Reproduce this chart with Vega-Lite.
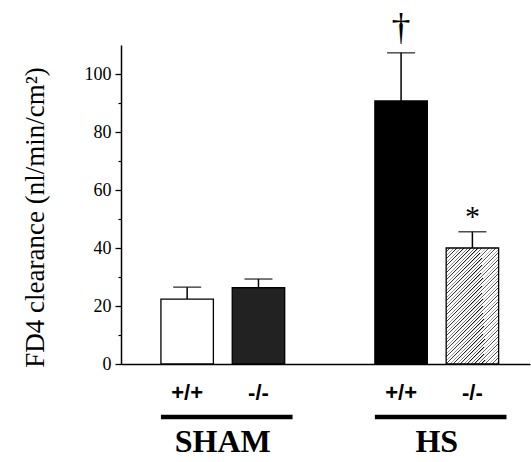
{
  "$schema": "https://vega.github.io/schema/vega-lite/v6.json",
  "width": 409,
  "height": 319,
  "autosize": "none",
  "padding": {"left": 121, "top": 45, "right": 1, "bottom": 98},
  "background": "white",
  "config": {
    "view": {"stroke": null},
    "font": "Liberation Serif",
    "axis": {"domainColor": "#000", "tickColor": "#000", "labelColor": "#000", "titleColor": "#000", "grid": false}
  },
  "resolve": {"axis": {"y": "independent"}},
  "datasets": {
    "bars": [
      {"cond": "SHAM +/+", "group": "SHAM", "genotype": "+/+", "mean": 22.4, "upper": 26.5},
      {"cond": "SHAM -/-", "group": "SHAM", "genotype": "-/-", "mean": 26.3, "upper": 29.3},
      {"cond": "HS +/+", "group": "HS", "genotype": "+/+", "mean": 90.7, "upper": 107.3},
      {"cond": "HS -/-", "group": "HS", "genotype": "-/-", "mean": 40.0, "upper": 45.6}
    ],
    "groups": [
      {"group": "SHAM", "start": "SHAM +/+", "end": "SHAM -/-"},
      {"group": "HS", "start": "HS +/+", "end": "HS -/-"}
    ],
    "signif": [
      {"cond": "HS +/+", "symbol": "†", "pos": 111.8},
      {"cond": "HS -/-", "symbol": "*", "pos": 47.6}
    ]
  },
  "layer": [
    {
      "data": {"name": "bars"},
      "mark": {"type": "bar", "stroke": "#000", "strokeWidth": 1.3},
      "encoding": {
        "x": {
          "field": "cond", "type": "nominal",
          "scale": {"domain": ["SHAM +/+", "SHAM -/-", "gap", "HS +/+", "HS -/-"], "paddingInner": 0.2645, "paddingOuter": 0.5, "align": 0.56},
          "axis": {
            "title": null, "ticks": false, "tickSize": 0, "domainWidth": 1.5,
            "labelExpr": "datum.value == 'gap' ? '' : split(datum.value, ' ')[1]",
            "labelFont": "Liberation Sans", "labelFontWeight": "bold", "labelFontSize": 22,
            "labelAngle": 0, "labelBaseline": "middle", "labelPadding": 28
          }
        },
        "y": {
          "field": "mean", "type": "quantitative",
          "scale": {"domain": [0, 110], "nice": false, "zero": true},
          "axis": {
            "title": "FD4 clearance (nl/min/cm²)",
            "values": [0, 20, 40, 60, 80, 100],
            "labelFontSize": 18, "labelFont": "Liberation Serif", "labelPadding": 4,
            "tickSize": 6, "tickWidth": 1.3, "domainWidth": 1.5,
            "titleFont": "Liberation Serif", "titleFontSize": 27, "titleFontWeight": "normal",
            "titleX": -78, "titleY": 172, "titleBaseline": "alphabetic", "titleAngle": -90, "titleAlign": "center"
          }
        },
        "fill": {
          "condition": [
            {"test": "datum.cond === 'SHAM +/+'", "value": "#ffffff"},
            {"test": "datum.cond === 'SHAM -/-'", "value": "#222222"},
            {"test": "datum.cond === 'HS +/+'", "value": "#000000"}
          ],
          "value": {
            "gradient": "linear", "x1": 0, "y1": 0, "x2": 0.54, "y2": 1.206,
            "stops": [
              {"offset": 0, "color": "#000"}, {"offset": 0.008, "color": "#fff"}, {"offset": 0.0208, "color": "#fff"},
              {"offset": 0.0208, "color": "#000"}, {"offset": 0.0288, "color": "#fff"}, {"offset": 0.0417, "color": "#fff"},
              {"offset": 0.0417, "color": "#000"}, {"offset": 0.0497, "color": "#fff"}, {"offset": 0.0625, "color": "#fff"},
              {"offset": 0.0625, "color": "#000"}, {"offset": 0.0705, "color": "#fff"}, {"offset": 0.0833, "color": "#fff"},
              {"offset": 0.0833, "color": "#000"}, {"offset": 0.0913, "color": "#fff"}, {"offset": 0.1042, "color": "#fff"},
              {"offset": 0.1042, "color": "#000"}, {"offset": 0.1122, "color": "#fff"}, {"offset": 0.125, "color": "#fff"},
              {"offset": 0.125, "color": "#000"}, {"offset": 0.133, "color": "#fff"}, {"offset": 0.1458, "color": "#fff"},
              {"offset": 0.1458, "color": "#000"}, {"offset": 0.1538, "color": "#fff"}, {"offset": 0.1667, "color": "#fff"},
              {"offset": 0.1667, "color": "#000"}, {"offset": 0.1747, "color": "#fff"}, {"offset": 0.1875, "color": "#fff"},
              {"offset": 0.1875, "color": "#000"}, {"offset": 0.1955, "color": "#fff"}, {"offset": 0.2083, "color": "#fff"},
              {"offset": 0.2083, "color": "#000"}, {"offset": 0.2163, "color": "#fff"}, {"offset": 0.2292, "color": "#fff"},
              {"offset": 0.2292, "color": "#000"}, {"offset": 0.2372, "color": "#fff"}, {"offset": 0.25, "color": "#fff"},
              {"offset": 0.25, "color": "#000"}, {"offset": 0.258, "color": "#fff"}, {"offset": 0.2708, "color": "#fff"},
              {"offset": 0.2708, "color": "#000"}, {"offset": 0.2788, "color": "#fff"}, {"offset": 0.2917, "color": "#fff"},
              {"offset": 0.2917, "color": "#000"}, {"offset": 0.2997, "color": "#fff"}, {"offset": 0.3125, "color": "#fff"},
              {"offset": 0.3125, "color": "#000"}, {"offset": 0.3205, "color": "#fff"}, {"offset": 0.3333, "color": "#fff"},
              {"offset": 0.3333, "color": "#000"}, {"offset": 0.3413, "color": "#fff"}, {"offset": 0.3542, "color": "#fff"},
              {"offset": 0.3542, "color": "#000"}, {"offset": 0.3622, "color": "#fff"}, {"offset": 0.375, "color": "#fff"},
              {"offset": 0.375, "color": "#000"}, {"offset": 0.383, "color": "#fff"}, {"offset": 0.3958, "color": "#fff"},
              {"offset": 0.3958, "color": "#000"}, {"offset": 0.4038, "color": "#fff"}, {"offset": 0.4167, "color": "#fff"},
              {"offset": 0.4167, "color": "#000"}, {"offset": 0.4247, "color": "#fff"}, {"offset": 0.4375, "color": "#fff"},
              {"offset": 0.4375, "color": "#000"}, {"offset": 0.4455, "color": "#fff"}, {"offset": 0.4583, "color": "#fff"},
              {"offset": 0.4583, "color": "#000"}, {"offset": 0.4663, "color": "#fff"}, {"offset": 0.4792, "color": "#fff"},
              {"offset": 0.4792, "color": "#000"}, {"offset": 0.4872, "color": "#fff"}, {"offset": 0.5, "color": "#fff"},
              {"offset": 0.5, "color": "#000"}, {"offset": 0.508, "color": "#fff"}, {"offset": 0.5208, "color": "#fff"},
              {"offset": 0.5208, "color": "#000"}, {"offset": 0.5288, "color": "#fff"}, {"offset": 0.5417, "color": "#fff"},
              {"offset": 0.5417, "color": "#000"}, {"offset": 0.5497, "color": "#fff"}, {"offset": 0.5625, "color": "#fff"},
              {"offset": 0.5625, "color": "#000"}, {"offset": 0.5705, "color": "#fff"}, {"offset": 0.5833, "color": "#fff"},
              {"offset": 0.5833, "color": "#000"}, {"offset": 0.5913, "color": "#fff"}, {"offset": 0.6042, "color": "#fff"},
              {"offset": 0.6042, "color": "#000"}, {"offset": 0.6122, "color": "#fff"}, {"offset": 0.625, "color": "#fff"},
              {"offset": 0.625, "color": "#000"}, {"offset": 0.633, "color": "#fff"}, {"offset": 0.6458, "color": "#fff"},
              {"offset": 0.6458, "color": "#000"}, {"offset": 0.6538, "color": "#fff"}, {"offset": 0.6667, "color": "#fff"},
              {"offset": 0.6667, "color": "#000"}, {"offset": 0.6747, "color": "#fff"}, {"offset": 0.6875, "color": "#fff"},
              {"offset": 0.6875, "color": "#000"}, {"offset": 0.6955, "color": "#fff"}, {"offset": 0.7083, "color": "#fff"},
              {"offset": 0.7083, "color": "#000"}, {"offset": 0.7163, "color": "#fff"}, {"offset": 0.7292, "color": "#fff"},
              {"offset": 0.7292, "color": "#000"}, {"offset": 0.7372, "color": "#fff"}, {"offset": 0.75, "color": "#fff"},
              {"offset": 0.75, "color": "#000"}, {"offset": 0.758, "color": "#fff"}, {"offset": 0.7708, "color": "#fff"},
              {"offset": 0.7708, "color": "#000"}, {"offset": 0.7788, "color": "#fff"}, {"offset": 0.7917, "color": "#fff"},
              {"offset": 0.7917, "color": "#000"}, {"offset": 0.7997, "color": "#fff"}, {"offset": 0.8125, "color": "#fff"},
              {"offset": 0.8125, "color": "#000"}, {"offset": 0.8205, "color": "#fff"}, {"offset": 0.8333, "color": "#fff"},
              {"offset": 0.8333, "color": "#000"}, {"offset": 0.8413, "color": "#fff"}, {"offset": 0.8542, "color": "#fff"},
              {"offset": 0.8542, "color": "#000"}, {"offset": 0.8622, "color": "#fff"}, {"offset": 0.875, "color": "#fff"},
              {"offset": 0.875, "color": "#000"}, {"offset": 0.883, "color": "#fff"}, {"offset": 0.8958, "color": "#fff"},
              {"offset": 0.8958, "color": "#000"}, {"offset": 0.9038, "color": "#fff"}, {"offset": 0.9167, "color": "#fff"},
              {"offset": 0.9167, "color": "#000"}, {"offset": 0.9247, "color": "#fff"}, {"offset": 0.9375, "color": "#fff"},
              {"offset": 0.9375, "color": "#000"}, {"offset": 0.9455, "color": "#fff"}, {"offset": 0.9583, "color": "#fff"},
              {"offset": 0.9583, "color": "#000"}, {"offset": 0.9663, "color": "#fff"}, {"offset": 0.9792, "color": "#fff"},
              {"offset": 0.9792, "color": "#000"}, {"offset": 0.9872, "color": "#fff"}, {"offset": 1, "color": "#fff"}
            ]
          }
        }
      }
    },
    {
      "data": {"name": "bars"},
      "mark": {"type": "rule", "color": "#000", "strokeWidth": 1.5},
      "encoding": {
        "x": {"field": "cond", "type": "nominal"},
        "y": {"field": "mean", "type": "quantitative", "axis": null},
        "y2": {"field": "upper"}
      }
    },
    {
      "data": {"name": "bars"},
      "mark": {"type": "tick", "color": "#000", "thickness": 1.5, "size": 28, "orient": "horizontal"},
      "encoding": {
        "x": {"field": "cond", "type": "nominal"},
        "y": {
          "field": "upper", "type": "quantitative",
          "axis": {"orient": "left", "values": [10, 30, 50, 70, 90], "labels": false, "domain": false, "tickSize": 3, "tickWidth": 1.2, "title": null}
        }
      }
    },
    {
      "data": {"name": "groups"},
      "mark": {"type": "rule", "color": "#000", "strokeWidth": 4.5, "clip": false},
      "encoding": {
        "x": {"field": "start", "type": "nominal", "bandPosition": 0},
        "x2": {"field": "end", "bandPosition": 1.15},
        "y": {"datum": -18.3, "type": "quantitative", "axis": null}
      }
    },
    {
      "data": {"name": "groups"},
      "mark": {"type": "text", "font": "Liberation Serif", "fontWeight": "bold", "fontSize": 32, "align": "center", "baseline": "alphabetic", "color": "#000", "clip": false},
      "encoding": {
        "x": {"field": "start", "type": "nominal", "bandPosition": 1.18},
        "y": {"datum": -30.5, "type": "quantitative", "axis": null},
        "text": {"field": "group"}
      }
    },
    {
      "data": {"name": "signif"},
      "mark": {"type": "text", "font": "Liberation Serif", "align": "center", "baseline": "alphabetic", "color": "#000", "clip": false},
      "encoding": {
        "x": {"field": "cond", "type": "nominal"},
        "y": {"field": "pos", "type": "quantitative", "axis": null},
        "text": {"field": "symbol"},
        "size": {"condition": {"test": "datum.symbol === '†'", "value": 38}, "value": 30}
      }
    }
  ]
}
